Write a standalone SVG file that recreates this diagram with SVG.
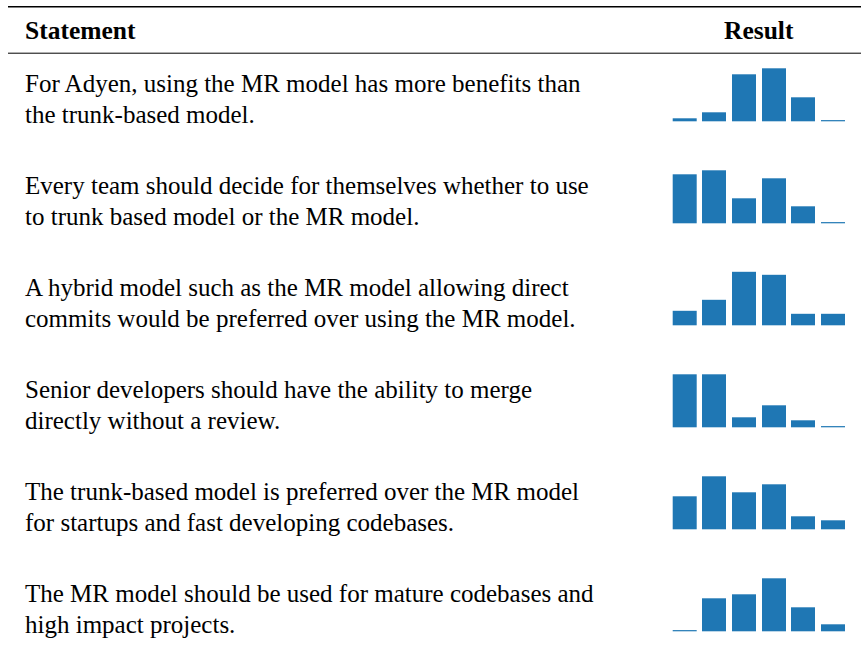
<svg xmlns="http://www.w3.org/2000/svg" width="861" height="646" viewBox="0 0 861 646">
  <defs>
    <!-- single survey bar shape, positioned per use -->
    <rect id="zero" width="24" height="1.2" fill="#1f77b4"/>
  </defs>
  <rect width="861" height="646" fill="#fff"/>

  <!-- table rules -->
  <g id="rules" stroke="#000" fill="none">
    <line x1="8" y1="6.7" x2="861" y2="6.7" stroke-width="1.5"/>
    <line x1="8" y1="53.2" x2="861" y2="53.2" stroke-width="1"/>
  </g>

  <!-- header -->
  <g id="header" font-family="'Liberation Serif', serif" font-size="25.5" font-weight="bold" fill="#000">
    <text x="25" y="39">Statement</text>
    <text x="724" y="39">Result</text>
  </g>

  <!-- statements -->
  <g id="statements" font-family="'Liberation Serif', serif" font-size="25" fill="#000">
    <text x="25" y="92.3">For Adyen, using the MR model has more benefits than</text>
    <text x="25" y="123.3">the trunk-based model.</text>
    <text x="25" y="194.3">Every team should decide for themselves whether to use</text>
    <text x="25" y="225.3">to trunk based model or the MR model.</text>
    <text x="25" y="296.3">A hybrid model such as the MR model allowing direct</text>
    <text x="25" y="327.3">commits would be preferred over using the MR model.</text>
    <text x="25" y="398.3">Senior developers should have the ability to merge</text>
    <text x="25" y="429.3">directly without a review.</text>
    <text x="25" y="500.3">The trunk-based model is preferred over the MR model</text>
    <text x="25" y="531.3">for startups and fast developing codebases.</text>
    <text x="25" y="602.3">The MR model should be used for mature codebases and</text>
    <text x="25" y="633.3">high impact projects.</text>
  </g>

  <!-- result bar charts -->
  <g id="results" fill="#1f77b4">
    <g id="result1" transform="translate(0,121.3)">
      <rect x="672.7" y="-3" width="24" height="3"/>
      <rect x="702" y="-9" width="24" height="9"/>
      <rect x="732" y="-47" width="24" height="47"/>
      <rect x="762" y="-53" width="24" height="53"/>
      <rect x="791" y="-24" width="24" height="24"/>
      <use href="#zero" x="821" y="-1.2"/>
    </g>
    <g id="result2" transform="translate(0,223.3)">
      <rect x="672.7" y="-49" width="24" height="49"/>
      <rect x="702" y="-53" width="24" height="53"/>
      <rect x="732" y="-25" width="24" height="25"/>
      <rect x="762" y="-45" width="24" height="45"/>
      <rect x="791" y="-17" width="24" height="17"/>
      <use href="#zero" x="821" y="-1.2"/>
    </g>
    <g id="result3" transform="translate(0,325.3)">
      <rect x="672.7" y="-14.5" width="24" height="14.5"/>
      <rect x="702" y="-25.5" width="24" height="25.5"/>
      <rect x="732" y="-53.5" width="24" height="53.5"/>
      <rect x="762" y="-50.5" width="24" height="50.5"/>
      <rect x="791" y="-11.5" width="24" height="11.5"/>
      <rect x="821" y="-11.5" width="24" height="11.5"/>
    </g>
    <g id="result4" transform="translate(0,427.3)">
      <rect x="672.7" y="-53" width="24" height="53"/>
      <rect x="702" y="-53" width="24" height="53"/>
      <rect x="732" y="-10" width="24" height="10"/>
      <rect x="762" y="-22" width="24" height="22"/>
      <rect x="791" y="-7" width="24" height="7"/>
      <use href="#zero" x="821" y="-1.2"/>
    </g>
    <g id="result5" transform="translate(0,529.3)">
      <rect x="672.7" y="-33" width="24" height="33"/>
      <rect x="702" y="-53" width="24" height="53"/>
      <rect x="732" y="-37" width="24" height="37"/>
      <rect x="762" y="-45" width="24" height="45"/>
      <rect x="791" y="-13" width="24" height="13"/>
      <rect x="821" y="-9" width="24" height="9"/>
    </g>
    <g id="result6" transform="translate(0,631.3)">
      <use href="#zero" x="672.7" y="-1.2"/>
      <rect x="702" y="-33" width="24" height="33"/>
      <rect x="732" y="-37" width="24" height="37"/>
      <rect x="762" y="-53" width="24" height="53"/>
      <rect x="791" y="-24" width="24" height="24"/>
      <rect x="821" y="-7" width="24" height="7"/>
    </g>
  </g>
</svg>
